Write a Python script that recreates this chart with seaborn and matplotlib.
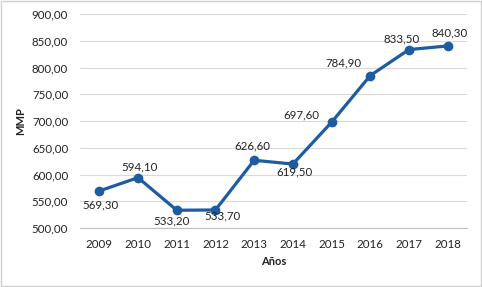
import matplotlib
matplotlib.use("Agg")
import matplotlib.pyplot as plt
import seaborn as sns
import pandas as pd
from matplotlib.ticker import FixedLocator, FuncFormatter
from matplotlib.patches import Rectangle

years = ["2009", "2010", "2011", "2012", "2013", "2014", "2015", "2016", "2017", "2018"]
values = [569.30, 594.10, 533.20, 533.70, 626.60, 619.50, 697.60, 784.90, 833.50, 840.30]
# label offsets (points) relative to each marker
offsets = [(1, -10), (1, 8), (-4, -7.5), (5, -4), (-1.5, 10), (1.5, -6),
           (-21.5, 5), (-19, 9), (-5, 7.5), (1.5, 9.5)]

sns.set_theme(style="white")
plt.rcParams['font.family'] = ['Lato', 'DejaVu Sans']

df = pd.DataFrame({"Años": years, "MMP": values})
df["x"] = range(len(years))

fig = plt.figure(figsize=(4.82, 2.87), dpi=100)
ax = fig.add_axes([80/482, 1-228/287, (467-80)/482, (228-14)/287])

color = "#1D5C9E"
sns.lineplot(data=df, x="x", y="MMP", ax=ax, color=color, linewidth=2.3,
             marker="o", markersize=7, markeredgewidth=0, zorder=3)

for xi, v, (dx, dy) in zip(df["x"], values, offsets):
    ax.annotate(f"{v:.2f}".replace(".", ","), (xi, v), xytext=(dx, dy),
                textcoords="offset points", ha="center", va="center",
                fontsize=8.3, color="#222222", zorder=4)

ax.set_xlim(-0.5, len(years) - 0.5)
ax.set_ylim(500, 900)
ax.yaxis.set_major_locator(FixedLocator(range(500, 901, 50)))
ax.yaxis.set_major_formatter(FuncFormatter(lambda v, p: f"{v:.2f}".replace(".", ",")))
ax.set_xticks(df["x"])
ax.set_xticklabels(years)
ax.xaxis.set_minor_locator(FixedLocator([i - 0.5 for i in range(len(years) + 1)]))
ax.tick_params(axis="x", which="major", length=0, labelsize=8.3, pad=8, colors="#222222")
ax.tick_params(axis="x", which="minor", length=5, width=0.8, color="#bfbfbf", direction="out")
ax.tick_params(axis="y", length=0, labelsize=8.3, pad=8.5, colors="#222222")
ax.grid(axis="y", color="#d9d9d9", linewidth=0.8)
ax.set_axisbelow(True)
for s in ["top", "right", "left"]:
    ax.spines[s].set_visible(False)
ax.spines["bottom"].set_color("#bfbfbf")
ax.spines["bottom"].set_linewidth(0.8)

ax.set_xlabel("Años", fontsize=8, fontweight="bold", labelpad=4, color="#222222")
ax.set_ylabel("MMP", fontsize=8, fontweight="bold", labelpad=4, color="#222222")

fig.patches.append(Rectangle((0.002, 0.003), 0.996, 0.994, transform=fig.transFigure,
                             fill=False, edgecolor="#d0d0d0", linewidth=1))

fig.savefig("out.png", dpi=100)
